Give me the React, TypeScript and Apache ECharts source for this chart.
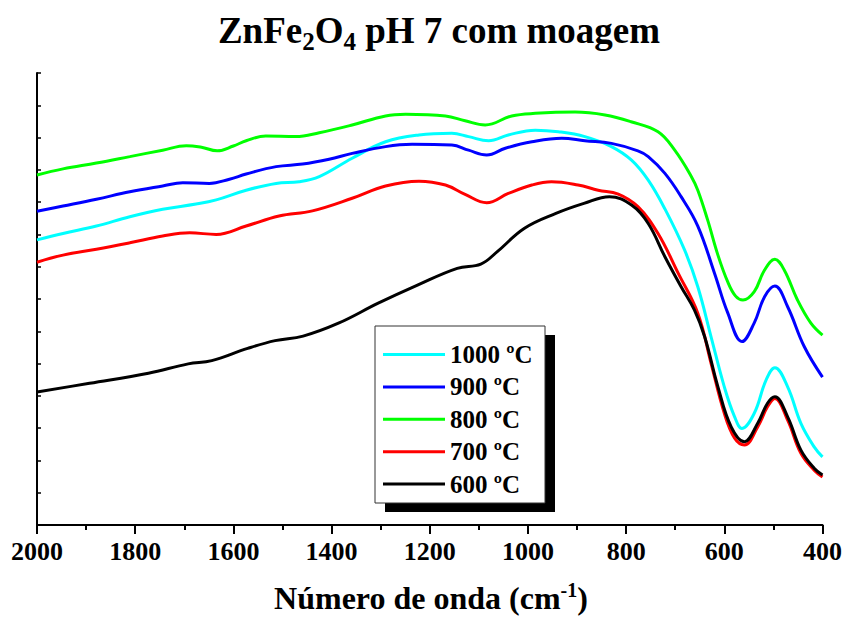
import React, { useEffect, useRef } from "react";
import * as echarts from "echarts";

const FONT = '"Liberation Serif", "Times New Roman", serif';

const seriesNames = ["1000 ºC", "900 ºC", "800 ºC", "700 ºC", "600 ºC"];
const seriesColors = ["#00FFFF", "#0000FF", "#00FF00", "#FF0000", "#000000"];

const xTickMin = 400;
const xTickMax = 2000;
const xTickStep = 200;

const s1000: [number, number][] = [
  [2000, 8.83], [1947, 9.03], [1879, 9.26], [1811, 9.55], [1744, 9.78], [1676, 9.94],
  [1635, 10.07], [1574, 10.37], [1513, 10.58], [1466, 10.63], [1425, 10.79], [1358, 11.36],
  [1290, 11.87], [1222, 12.08], [1155, 12.13], [1121, 12.03], [1080, 11.9], [1040, 12.08],
  [985, 12.23], [938, 12.18], [884, 12.03], [830, 11.72], [789, 11.3], [755, 10.68],
  [721, 9.79], [681, 8.52], [654, 7.38], [627, 5.83], [600, 4.28], [579, 3.35],
  [564, 2.99], [539, 3.46], [515, 4.49], [497, 4.87], [471, 4.28], [444, 3.15],
  [417, 2.42], [400, 2.11],
];

const s900: [number, number][] = [
  [2000, 9.72], [1947, 9.88], [1879, 10.09], [1811, 10.32], [1744, 10.5], [1703, 10.6],
  [1649, 10.58], [1608, 10.71], [1574, 10.87], [1513, 11.1], [1459, 11.18], [1405, 11.33],
  [1358, 11.51], [1290, 11.72], [1236, 11.79], [1155, 11.77], [1121, 11.61], [1084, 11.46],
  [1046, 11.67], [992, 11.87], [931, 11.98], [884, 11.9], [830, 11.82], [776, 11.59],
  [755, 11.41], [721, 10.89], [688, 10.17], [654, 9.26], [620, 7.8], [593, 6.57],
  [564, 5.68], [539, 6.26], [518, 7.07], [497, 7.4], [471, 6.76], [437, 5.52], [400, 4.58],
];

const s800: [number, number][] = [
  [2000, 10.84], [1947, 11.03], [1879, 11.21], [1811, 11.41], [1744, 11.61], [1696, 11.75],
  [1665, 11.7], [1633, 11.59], [1600, 11.74], [1574, 11.9], [1534, 12.05], [1473, 12.03],
  [1425, 12.15], [1358, 12.39], [1290, 12.67], [1249, 12.72], [1168, 12.67], [1128, 12.52],
  [1087, 12.39], [1033, 12.67], [985, 12.75], [904, 12.79], [843, 12.7], [790, 12.49],
  [735, 12.18], [701, 11.61], [667, 10.79], [654, 10.37], [634, 9.45], [613, 8.36],
  [593, 7.53], [577, 7.09], [562, 6.97], [539, 7.23], [518, 7.9], [497, 8.23],
  [478, 7.9], [451, 6.97], [424, 6.26], [400, 5.88],
];

const s700: [number, number][] = [
  [2000, 8.14], [1947, 8.36], [1879, 8.54], [1811, 8.74], [1744, 8.95], [1689, 9.05],
  [1635, 9.0], [1574, 9.26], [1507, 9.57], [1439, 9.73], [1358, 10.12], [1290, 10.5],
  [1222, 10.65], [1168, 10.53], [1128, 10.24], [1084, 9.98], [1040, 10.27], [992, 10.53],
  [952, 10.63], [898, 10.53], [857, 10.37], [816, 10.25], [776, 9.86], [735, 9.03],
  [694, 7.8], [654, 6.56], [627, 5.01], [600, 3.46], [579, 2.69], [559, 2.48],
  [532, 3.04], [512, 3.66], [497, 3.92], [471, 3.25], [444, 2.22], [417, 1.7], [400, 1.49],
];

const s600: [number, number][] = [
  [2000, 4.12], [1893, 4.39], [1773, 4.7], [1692, 4.99], [1644, 5.09], [1571, 5.47],
  [1515, 5.71], [1458, 5.85], [1386, 6.25], [1305, 6.87], [1225, 7.43], [1144, 7.95],
  [1096, 8.08], [1063, 8.46], [1007, 9.19], [943, 9.65], [886, 9.96], [834, 10.17],
  [789, 9.91], [755, 9.34], [721, 8.31], [688, 7.38], [661, 6.66], [640, 5.83],
  [613, 4.28], [586, 3.04], [559, 2.58], [532, 3.15], [512, 3.77], [497, 3.97],
  [471, 3.35], [444, 2.32], [417, 1.76], [400, 1.55],
];

const seriesData = [s1000, s900, s800, s700, s600];

// text pieces: [text, fontSize, vertical offset, extra space before]
const titlePieces: [string, number, number, boolean][] = [
  ["ZnFe", 37, 0, false],
  ["2", 25, 11, false],
  ["O", 37, 0, false],
  ["4", 25, 11, false],
  ["pH 7 com moagem", 37, 0, true],
];
const xNamePieces: [string, number, number, boolean][] = [
  ["Número de onda (cm", 32, 0, false],
  ["-1", 20, -8, false],
  [")", 32, 0, false],
];

function buildPieces(
  pieces: [string, number, number, boolean][],
  cx: number,
  cy: number
): any[] {
  const canvas = document.createElement("canvas");
  const ctx = canvas.getContext("2d")!;
  const widthOf = (t: string, size: number) => {
    ctx.font = `bold ${size}px "Liberation Serif", "Times New Roman", serif`;
    return ctx.measureText(t).width;
  };
  const spaced = pieces.map(([t, size, dy, sp]) => ({
    t,
    size,
    dy,
    gap: sp ? widthOf(" ", size) : 0,
    w: widthOf(t, size),
  }));
  const total = spaced.reduce((s, p) => s + p.gap + p.w, 0);
  let x = cx - total / 2;
  return spaced.map((p) => {
    x += p.gap;
    const el = {
      type: "text",
      x,
      y: cy + p.dy,
      z: 10,
      style: {
        text: p.t,
        fontFamily: FONT,
        fontWeight: "bold",
        fontSize: p.size,
        lineHeight: Math.round(p.size * 0.8),
        fill: "#000",
        align: "left",
        verticalAlign: "middle",
      },
    };
    x += p.w;
    return el;
  });
}

export default function App() {
  const ref = useRef<HTMLDivElement>(null);

  useEffect(() => {
    if (!ref.current) return;
    const chart = echarts.init(ref.current, null, { renderer: "svg" });

    const option: any = {
      animation: false,
      backgroundColor: "#ffffff",
      grid: { left: 37, right: 20, top: 73, bottom: 92, containLabel: false },
      xAxis: {
        type: "value",
        inverse: true,
        min: xTickMin,
        max: xTickMax,
        interval: xTickStep,
        axisLine: { show: true, lineStyle: { color: "#000", width: 2 } },
        axisTick: { show: true, inside: false, length: 9, lineStyle: { color: "#000", width: 2 } },
        minorTick: { show: true, splitNumber: 2, length: 5, lineStyle: { color: "#000", width: 2 } },
        splitLine: { show: false },
        axisLabel: {
          show: true,
          margin: 13,
          color: "#000",
          fontFamily: FONT,
          fontWeight: "bold",
          fontSize: 26,
          formatter: (v: number) => String(v),
        },
      },
      yAxis: {
        type: "value",
        min: 0,
        max: 14,
        interval: 1,
        axisLine: { show: true, lineStyle: { color: "#000", width: 2 } },
        axisTick: { show: true, inside: true, length: 4, lineStyle: { color: "#000", width: 1.5 } },
        splitLine: { show: false },
        axisLabel: { show: false },
      },
      legend: {
        orient: "vertical",
        left: 383,
        top: 342,
        padding: 0,
        itemGap: 7.4,
        itemWidth: 62,
        itemHeight: 3,
        icon: "rect",
        data: seriesNames,
        textStyle: {
          color: "#000",
          fontFamily: FONT,
          fontWeight: "bold",
          fontSize: 25,
          lineHeight: 25,
        },
      },
      graphic: [
        {
          type: "rect",
          z: 0,
          shape: { x: 385, y: 335, width: 170, height: 177 },
          style: { fill: "#000" },
        },
        {
          type: "rect",
          z: 1,
          shape: { x: 375, y: 326, width: 170, height: 177 },
          style: { fill: "#fff", stroke: "#333", lineWidth: 1 },
        },
        ...buildPieces(titlePieces, 439, 30),
        ...buildPieces(xNamePieces, 431, 598),
      ],
      series: seriesNames.map((name, i) => ({
        name,
        type: "line",
        data: seriesData[i],
        symbol: "none",
        showSymbol: false,
        smooth: 0.4,
        z: 2 + i,
        itemStyle: { color: seriesColors[i] },
        lineStyle: { color: seriesColors[i], width: 3 },
      })),
    };

    chart.setOption(option);
    return () => chart.dispose();
  }, []);

  return (
    <div
      ref={ref}
      style={{ position: "absolute", left: 0, top: 0, width: 845, height: 617 }}
    />
  );
}
